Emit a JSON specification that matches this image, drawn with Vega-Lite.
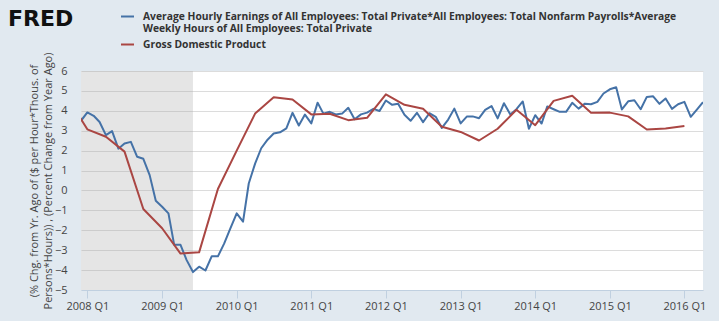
{
  "$schema": "https://vega.github.io/schema/vega-lite/v6.json",
  "width": 622,
  "height": 219,
  "autosize": {"type": "none"},
  "padding": {"left": 81, "top": 71, "right": 16, "bottom": 31},
  "background": "#e1e9f0",
  "config": {
    "view": {"fill": "white", "stroke": null},
    "font": "Open Sans",
    "axisY": {"labelOverlap": false, "tickCount": 12}
  },
  "title": {
    "text": "FRED",
    "anchor": "start",
    "frame": "group",
    "font": "DejaVu Sans",
    "fontSize": 22,
    "fontWeight": "bold",
    "color": "#111111",
    "baseline": "alphabetic",
    "offset": -39,
    "dx": -73
  },
  "datasets": {
    "rec": [{"start": "2007-12-01", "end": "2009-06-01"}],
    "series": [
      {"date": "2007-12-01", "value": 3.5, "series": "AHE"},
      {"date": "2008-01-01", "value": 3.92, "series": "AHE"},
      {"date": "2008-02-01", "value": 3.75, "series": "AHE"},
      {"date": "2008-03-01", "value": 3.44, "series": "AHE"},
      {"date": "2008-04-01", "value": 2.78, "series": "AHE"},
      {"date": "2008-05-01", "value": 2.98, "series": "AHE"},
      {"date": "2008-06-01", "value": 2.1, "series": "AHE"},
      {"date": "2008-07-01", "value": 2.36, "series": "AHE"},
      {"date": "2008-08-01", "value": 2.44, "series": "AHE"},
      {"date": "2008-09-01", "value": 1.69, "series": "AHE"},
      {"date": "2008-10-01", "value": 1.59, "series": "AHE"},
      {"date": "2008-11-01", "value": 0.77, "series": "AHE"},
      {"date": "2008-12-01", "value": -0.52, "series": "AHE"},
      {"date": "2009-01-01", "value": -0.82, "series": "AHE"},
      {"date": "2009-02-01", "value": -1.15, "series": "AHE"},
      {"date": "2009-03-01", "value": -2.73, "series": "AHE"},
      {"date": "2009-04-01", "value": -2.73, "series": "AHE"},
      {"date": "2009-05-01", "value": -3.5, "series": "AHE"},
      {"date": "2009-06-01", "value": -4.1, "series": "AHE"},
      {"date": "2009-07-01", "value": -3.83, "series": "AHE"},
      {"date": "2009-08-01", "value": -4.02, "series": "AHE"},
      {"date": "2009-09-01", "value": -3.3, "series": "AHE"},
      {"date": "2009-10-01", "value": -3.31, "series": "AHE"},
      {"date": "2009-11-01", "value": -2.66, "series": "AHE"},
      {"date": "2009-12-01", "value": -1.9, "series": "AHE"},
      {"date": "2010-01-01", "value": -1.15, "series": "AHE"},
      {"date": "2010-02-01", "value": -1.57, "series": "AHE"},
      {"date": "2010-03-01", "value": 0.35, "series": "AHE"},
      {"date": "2010-04-01", "value": 1.35, "series": "AHE"},
      {"date": "2010-05-01", "value": 2.12, "series": "AHE"},
      {"date": "2010-06-01", "value": 2.55, "series": "AHE"},
      {"date": "2010-07-01", "value": 2.86, "series": "AHE"},
      {"date": "2010-08-01", "value": 2.92, "series": "AHE"},
      {"date": "2010-09-01", "value": 3.12, "series": "AHE"},
      {"date": "2010-10-01", "value": 3.9, "series": "AHE"},
      {"date": "2010-11-01", "value": 3.26, "series": "AHE"},
      {"date": "2010-12-01", "value": 3.81, "series": "AHE"},
      {"date": "2011-01-01", "value": 3.37, "series": "AHE"},
      {"date": "2011-02-01", "value": 4.41, "series": "AHE"},
      {"date": "2011-03-01", "value": 3.86, "series": "AHE"},
      {"date": "2011-04-01", "value": 3.95, "series": "AHE"},
      {"date": "2011-05-01", "value": 3.82, "series": "AHE"},
      {"date": "2011-06-01", "value": 3.86, "series": "AHE"},
      {"date": "2011-07-01", "value": 4.15, "series": "AHE"},
      {"date": "2011-08-01", "value": 3.58, "series": "AHE"},
      {"date": "2011-09-01", "value": 3.82, "series": "AHE"},
      {"date": "2011-10-01", "value": 3.91, "series": "AHE"},
      {"date": "2011-11-01", "value": 4.1, "series": "AHE"},
      {"date": "2011-12-01", "value": 3.99, "series": "AHE"},
      {"date": "2012-01-01", "value": 4.52, "series": "AHE"},
      {"date": "2012-02-01", "value": 4.3, "series": "AHE"},
      {"date": "2012-03-01", "value": 4.36, "series": "AHE"},
      {"date": "2012-04-01", "value": 3.8, "series": "AHE"},
      {"date": "2012-05-01", "value": 3.5, "series": "AHE"},
      {"date": "2012-06-01", "value": 3.9, "series": "AHE"},
      {"date": "2012-07-01", "value": 3.43, "series": "AHE"},
      {"date": "2012-08-01", "value": 3.88, "series": "AHE"},
      {"date": "2012-09-01", "value": 3.7, "series": "AHE"},
      {"date": "2012-10-01", "value": 3.14, "series": "AHE"},
      {"date": "2012-11-01", "value": 3.56, "series": "AHE"},
      {"date": "2012-12-01", "value": 4.11, "series": "AHE"},
      {"date": "2013-01-01", "value": 3.37, "series": "AHE"},
      {"date": "2013-02-01", "value": 3.72, "series": "AHE"},
      {"date": "2013-03-01", "value": 3.72, "series": "AHE"},
      {"date": "2013-04-01", "value": 3.63, "series": "AHE"},
      {"date": "2013-05-01", "value": 4.05, "series": "AHE"},
      {"date": "2013-06-01", "value": 4.24, "series": "AHE"},
      {"date": "2013-07-01", "value": 3.62, "series": "AHE"},
      {"date": "2013-08-01", "value": 4.38, "series": "AHE"},
      {"date": "2013-09-01", "value": 3.82, "series": "AHE"},
      {"date": "2013-10-01", "value": 4.08, "series": "AHE"},
      {"date": "2013-11-01", "value": 4.47, "series": "AHE"},
      {"date": "2013-12-01", "value": 3.1, "series": "AHE"},
      {"date": "2014-01-01", "value": 3.78, "series": "AHE"},
      {"date": "2014-02-01", "value": 3.36, "series": "AHE"},
      {"date": "2014-03-01", "value": 4.22, "series": "AHE"},
      {"date": "2014-04-01", "value": 4.08, "series": "AHE"},
      {"date": "2014-05-01", "value": 3.95, "series": "AHE"},
      {"date": "2014-06-01", "value": 3.95, "series": "AHE"},
      {"date": "2014-07-01", "value": 4.4, "series": "AHE"},
      {"date": "2014-08-01", "value": 4.11, "series": "AHE"},
      {"date": "2014-09-01", "value": 4.36, "series": "AHE"},
      {"date": "2014-10-01", "value": 4.33, "series": "AHE"},
      {"date": "2014-11-01", "value": 4.45, "series": "AHE"},
      {"date": "2014-12-01", "value": 4.87, "series": "AHE"},
      {"date": "2015-01-01", "value": 5.08, "series": "AHE"},
      {"date": "2015-02-01", "value": 5.18, "series": "AHE"},
      {"date": "2015-03-01", "value": 4.07, "series": "AHE"},
      {"date": "2015-04-01", "value": 4.48, "series": "AHE"},
      {"date": "2015-05-01", "value": 4.53, "series": "AHE"},
      {"date": "2015-06-01", "value": 4.08, "series": "AHE"},
      {"date": "2015-07-01", "value": 4.7, "series": "AHE"},
      {"date": "2015-08-01", "value": 4.73, "series": "AHE"},
      {"date": "2015-09-01", "value": 4.35, "series": "AHE"},
      {"date": "2015-10-01", "value": 4.62, "series": "AHE"},
      {"date": "2015-11-01", "value": 4.1, "series": "AHE"},
      {"date": "2015-12-01", "value": 4.33, "series": "AHE"},
      {"date": "2016-01-01", "value": 4.45, "series": "AHE"},
      {"date": "2016-02-01", "value": 3.7, "series": "AHE"},
      {"date": "2016-03-01", "value": 4.05, "series": "AHE"},
      {"date": "2016-04-01", "value": 4.43, "series": "AHE"},
      {"date": "2007-10-01", "value": 4.6, "series": "GDP"},
      {"date": "2008-01-01", "value": 3.07, "series": "GDP"},
      {"date": "2008-04-01", "value": 2.7, "series": "GDP"},
      {"date": "2008-07-01", "value": 1.95, "series": "GDP"},
      {"date": "2008-10-01", "value": -0.93, "series": "GDP"},
      {"date": "2009-01-01", "value": -1.9, "series": "GDP"},
      {"date": "2009-04-01", "value": -3.17, "series": "GDP"},
      {"date": "2009-07-01", "value": -3.11, "series": "GDP"},
      {"date": "2009-10-01", "value": 0.07, "series": "GDP"},
      {"date": "2010-01-01", "value": 2.0, "series": "GDP"},
      {"date": "2010-04-01", "value": 3.86, "series": "GDP"},
      {"date": "2010-07-01", "value": 4.68, "series": "GDP"},
      {"date": "2010-10-01", "value": 4.57, "series": "GDP"},
      {"date": "2011-01-01", "value": 3.82, "series": "GDP"},
      {"date": "2011-04-01", "value": 3.85, "series": "GDP"},
      {"date": "2011-07-01", "value": 3.53, "series": "GDP"},
      {"date": "2011-10-01", "value": 3.65, "series": "GDP"},
      {"date": "2012-01-01", "value": 4.83, "series": "GDP"},
      {"date": "2012-04-01", "value": 4.3, "series": "GDP"},
      {"date": "2012-07-01", "value": 4.1, "series": "GDP"},
      {"date": "2012-10-01", "value": 3.2, "series": "GDP"},
      {"date": "2013-01-01", "value": 2.94, "series": "GDP"},
      {"date": "2013-04-01", "value": 2.51, "series": "GDP"},
      {"date": "2013-07-01", "value": 3.1, "series": "GDP"},
      {"date": "2013-10-01", "value": 4.05, "series": "GDP"},
      {"date": "2014-01-01", "value": 3.28, "series": "GDP"},
      {"date": "2014-04-01", "value": 4.5, "series": "GDP"},
      {"date": "2014-07-01", "value": 4.76, "series": "GDP"},
      {"date": "2014-10-01", "value": 3.9, "series": "GDP"},
      {"date": "2015-01-01", "value": 3.91, "series": "GDP"},
      {"date": "2015-04-01", "value": 3.72, "series": "GDP"},
      {"date": "2015-07-01", "value": 3.06, "series": "GDP"},
      {"date": "2015-10-01", "value": 3.11, "series": "GDP"},
      {"date": "2016-01-01", "value": 3.24, "series": "GDP"}
    ]
  },
  "layer": [
    {
      "data": {"name": "rec"},
      "mark": {"type": "rect", "fill": "#a8a8a8", "opacity": 0.3, "clip": true},
      "encoding": {
        "x": {"field": "start", "type": "temporal"},
        "x2": {"field": "end"}
      }
    },
    {
      "mark": {"type": "rule", "color": "#000000", "strokeWidth": 2},
      "encoding": {"y": {"datum": 0, "type": "quantitative"}}
    },
    {
      "data": {"name": "series"},
      "mark": {"type": "line", "strokeWidth": 2, "clip": true, "strokeJoin": "round"},
      "encoding": {
        "x": {
          "field": "date",
          "type": "temporal",
          "scale": {
            "type": "utc",
            "nice": false,
            "domain": [
              {"year": 2007, "month": 12, "date": 1, "utc": true},
              {"year": 2016, "month": 4, "date": 1, "utc": true}
            ]
          },
          "axis": {
            "title": null,
            "grid": false,
            "domain": true,
            "domainColor": "#c0d0e0",
            "ticks": true,
            "tickColor": "#c0d0e0",
            "tickSize": 8,
            "labelPadding": 2,
            "labelFont": "Open Sans",
            "labelFontSize": 11,
            "labelColor": "#444444",
            "values": [
              {"year": 2008, "month": 1, "date": 1, "utc": true},
              {"year": 2009, "month": 1, "date": 1, "utc": true},
              {"year": 2010, "month": 1, "date": 1, "utc": true},
              {"year": 2011, "month": 1, "date": 1, "utc": true},
              {"year": 2012, "month": 1, "date": 1, "utc": true},
              {"year": 2013, "month": 1, "date": 1, "utc": true},
              {"year": 2014, "month": 1, "date": 1, "utc": true},
              {"year": 2015, "month": 1, "date": 1, "utc": true},
              {"year": 2016, "month": 1, "date": 1, "utc": true}
            ],
            "labelExpr": "utcFormat(datum.value, '%Y') + ' Q1'"
          }
        },
        "y": {
          "field": "value",
          "type": "quantitative",
          "scale": {"domain": [-5, 6], "nice": false, "zero": false},
          "axis": {
            "title": ["(% Chg. from Yr. Ago of ($ per Hour*Thous. of", "Persons*Hours)) , (Percent Change from Year Ago)"],
            "titleFont": "Open Sans",
            "titleFontSize": 11,
            "titleFontWeight": "normal",
            "titleColor": "#444444",
            "titleLineHeight": 13.5,
            "titlePadding": 1,
            "values": [-5, -4, -3, -2, -1, 0, 1, 2, 3, 4, 5, 6],
            "tickCount": 12,
            "labelOverlap": false,
            "grid": true,
            "gridColor": "#dcdcdc",
            "domain": false,
            "ticks": false,
            "tickSize": 0,
            "labelPadding": 14,
            "labelFont": "Open Sans",
            "labelFontSize": 11,
            "labelColor": "#444444"
          }
        },
        "color": {
          "field": "series",
          "type": "nominal",
          "scale": {"domain": ["AHE", "GDP"], "range": ["#4572a7", "#aa4643"]},
          "legend": {
            "title": null,
            "orient": "none",
            "legendX": 39,
            "legendY": -62,
            "direction": "vertical",
            "symbolType": "stroke",
            "symbolStrokeWidth": 2,
            "symbolSize": 169,
            "labelOffset": 8,
            "labelFont": "Open Sans",
            "labelFontSize": 10.3,
            "labelFontWeight": "bold",
            "labelColor": "#333333",
            "labelLimit": 0,
            "labelLineHeight": 13.5,
            "rowPadding": 2,
            "labelExpr": "datum.label == 'AHE' ? ['Average Hourly Earnings of All Employees: Total Private*All Employees: Total Nonfarm Payrolls*Average', 'Weekly Hours of All Employees: Total Private'] : 'Gross Domestic Product'"
          }
        }
      }
    }
  ]
}
